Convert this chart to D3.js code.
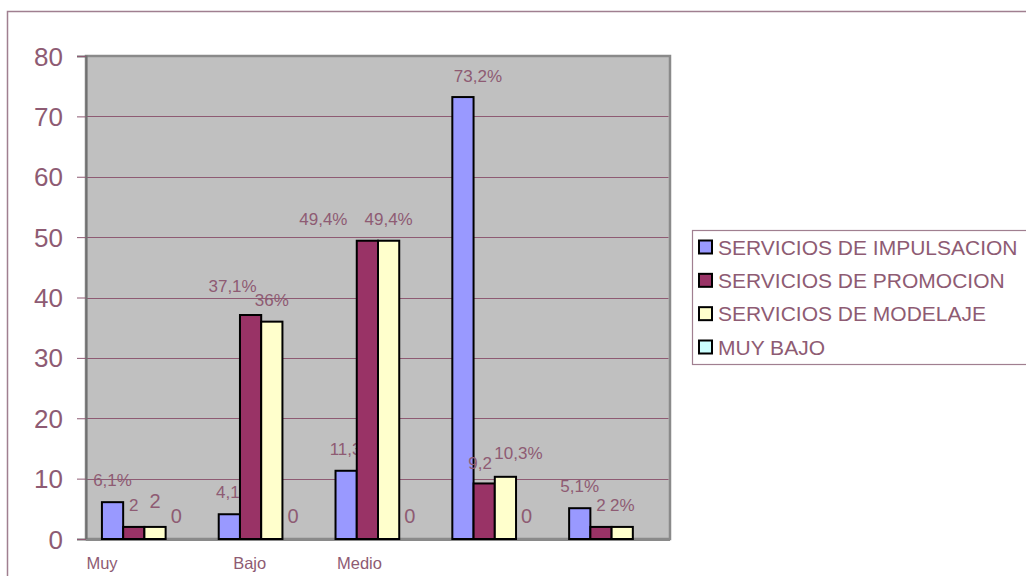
<!DOCTYPE html>
<html>
<head>
<meta charset="utf-8">
<script src="https://cdn.jsdelivr.net/npm/d3@7"></script>
<style>
  html, body { margin: 0; padding: 0; background: #fff; }
  svg { display: block; font-family: "Liberation Sans", Arial, sans-serif; }
</style>
</head>
<body>
<svg id="chart" width="1026" height="576"></svg>
<script>
// Category labels along the x axis (the last two groups carry no label)
const categories = ["Muy", "Bajo", "Medio", "", ""];

// Series names (legend order)
const seriesNames = [
  "SERVICIOS DE IMPULSACION",
  "SERVICIOS DE PROMOCION",
  "SERVICIOS DE MODELAJE",
  "MUY BAJO"
];

// Values per series, one per category
const impulsacion = [6.1, 4.1, 11.3, 73.2, 5.1];
const promocion   = [2, 37.1, 49.4, 9.2, 2];
const modelaje    = [2, 36, 49.4, 10.3, 2];
const muyBajo     = [0, 0, 0, 0, null];

// Data label texts as printed on the chart
const impulsacionLabels = ["6,1%", "4,1%", "11,3%", "73,2%", "5,1%"];
const promocionLabels   = ["2", "37,1%", "49,4%", "9,2", "2"];
const modelajeLabels    = ["2", "36%", "49,4%", "10,3%", "2%"];
const muyBajoLabels     = ["0", "0", "0", "0", null];

// Y axis ticks
const yTicks = [0, 10, 20, 30, 40, 50, 60, 70, 80];

const seriesValues = [impulsacion, promocion, modelaje, muyBajo];
const seriesLabels = [impulsacionLabels, promocionLabels, modelajeLabels, muyBajoLabels];
const seriesColors = ["#9999ff", "#993366", "#ffffcc", "#ccffff"];

// Layout / styling
const textColor = "#8e5b73";
const plot = { left: 86, right: 670, top: 56, bottom: 539 };

// Label placement tweaks (series index - category index)
const labelNudge = {
  "0-1": { dx: 6 }, "0-2": { dx: 7 }, "0-3": { dx: 15, dy: 1 },
  "1-1": { dx: -18, dy: -7 }, "1-2": { dx: -44 }, "1-3": { dx: -4, dy: 2 },
  "2-3": { dx: 13, dy: -2 }, "2-0": { dy: -3 }
};
// Labels printed in the larger font
const bigLabels = new Set(["2-0", "3-0", "3-1", "3-2", "3-3"]);
// Horizontal shift of the category captions relative to the group centre
const categoryShift = [-58, -28, -41, 0, 0];

const svg = d3.select("#chart");

// Outer chart frame (runs off the right and bottom edges)
svg.append("rect")
  .attr("x", 7.5).attr("y", 11.5)
  .attr("width", 1040).attr("height", 600)
  .attr("fill", "#fff")
  .attr("stroke", "#a07f90").attr("stroke-width", 1.5);

const x0 = d3.scaleBand()
  .domain(d3.range(categories.length))
  .range([plot.left, plot.right])
  .paddingInner(1.5 / 5.5)
  .paddingOuter(0.75 / 5.5);

const x1 = d3.scaleBand()
  .domain(d3.range(seriesNames.length))
  .range([0, x0.bandwidth()]);

const y = d3.scaleLinear().domain([0, 80]).range([plot.bottom, plot.top]);

// Plot area
svg.append("rect")
  .attr("x", plot.left).attr("y", plot.top)
  .attr("width", plot.right - plot.left).attr("height", plot.bottom - plot.top)
  .attr("fill", "#c0c0c0")
  .attr("stroke", "#8a8a8a").attr("stroke-width", 2.5);

// Gridlines
svg.append("g")
  .selectAll("line")
  .data(yTicks.filter(t => t > 0 && t < 80))
  .join("line")
  .attr("x1", plot.left).attr("x2", plot.right - 1.5)
  .attr("y1", d => Math.round(y(d)) + 0.5).attr("y2", d => Math.round(y(d)) + 0.5)
  .attr("stroke", textColor).attr("stroke-width", 1);

// Y axis with ticks to the left
const yAxis = d3.axisLeft(y).tickValues(yTicks).tickSize(9).tickPadding(14);
const yg = svg.append("g")
  .attr("transform", `translate(${plot.left},0)`)
  .call(yAxis);
yg.select(".domain").attr("stroke", "#707070").attr("stroke-width", 2);
yg.selectAll(".tick line").attr("stroke", textColor).attr("stroke-width", 1);
yg.selectAll(".tick text")
  .attr("fill", textColor)
  .attr("font-size", 26)
  .attr("font-family", "Liberation Sans, Arial, sans-serif")
  .attr("dy", "0.35em");

// Bottom axis line
svg.append("line")
  .attr("x1", plot.left).attr("x2", plot.right)
  .attr("y1", plot.bottom + 1).attr("y2", plot.bottom + 1)
  .attr("stroke", "#8a8a8a").attr("stroke-width", 2);

// Bars and labels, series by series so later bars cover earlier labels
seriesValues.forEach((vals, s) => {
  const g = svg.append("g");
  const rows = vals.map((v, c) => ({ v, c, s, label: seriesLabels[s][c] }))
    .filter(d => d.v !== null);

  g.selectAll("rect")
    .data(rows)
    .join("rect")
    .attr("x", d => x0(d.c) + x1(s))
    .attr("y", d => y(d.v))
    .attr("width", x1.bandwidth())
    .attr("height", d => y(0) - y(d.v))
    .attr("fill", seriesColors[s])
    .attr("stroke", "#000")
    .attr("stroke-width", 2);

  g.selectAll("text")
    .data(rows.filter(d => d.label !== null))
    .join("text")
    .attr("x", d => x0(d.c) + x1(s) + x1.bandwidth() / 2 + ((labelNudge[`${s}-${d.c}`] || {}).dx || 0))
    .attr("y", d => y(d.v) - 16 + ((labelNudge[`${s}-${d.c}`] || {}).dy || 0))
    .attr("text-anchor", "middle")
    .attr("fill", textColor)
    .attr("font-size", d => bigLabels.has(`${s}-${d.c}`) ? 20 : 17)
    .text(d => d.label);
});

// Category captions
svg.append("g")
  .selectAll("text")
  .data(categories.map((c, i) => ({ c, i })))
  .join("text")
  .attr("x", d => x0(d.i) + x0.bandwidth() / 2 + categoryShift[d.i])
  .attr("y", 569)
  .attr("fill", textColor)
  .attr("font-size", 16.5)
  .text(d => d.c);

// Legend
const legend = svg.append("g");
legend.append("rect")
  .attr("x", 692.5).attr("y", 230.5)
  .attr("width", 360).attr("height", 134)
  .attr("fill", "#fff")
  .attr("stroke", "#a07f90").attr("stroke-width", 1.2);

const legendRow = d3.scalePoint().domain(d3.range(seriesNames.length)).range([247, 347]);
const items = legend.selectAll("g.item")
  .data(seriesNames.map((n, i) => ({ n, i })))
  .join("g")
  .attr("class", "item")
  .attr("transform", d => `translate(0,${legendRow(d.i)})`);
items.append("rect")
  .attr("x", 699).attr("y", -6.5)
  .attr("width", 13).attr("height", 13)
  .attr("fill", d => seriesColors[d.i])
  .attr("stroke", "#000").attr("stroke-width", 2);
items.append("text")
  .attr("x", 718).attr("y", 7.5)
  .attr("fill", textColor)
  .attr("font-size", 21)
  .text(d => d.n);
</script>
</body>
</html>
